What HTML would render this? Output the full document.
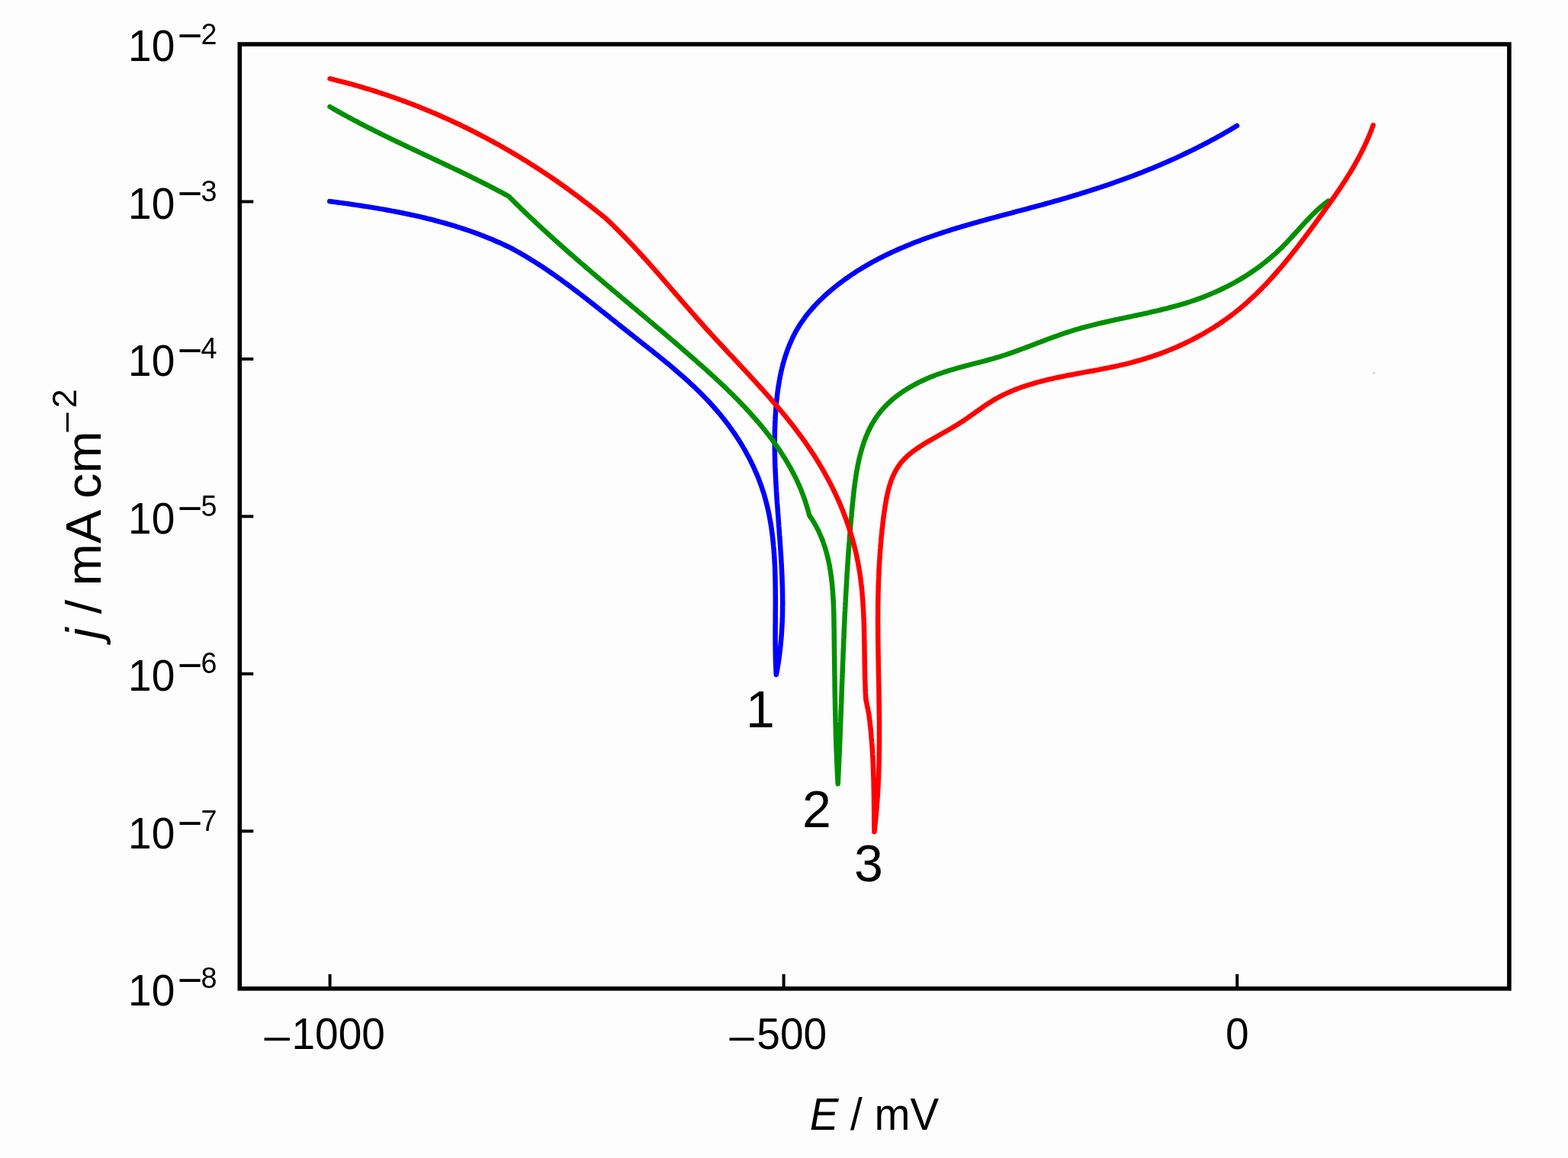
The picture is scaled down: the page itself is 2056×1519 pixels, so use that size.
<!DOCTYPE html>
<html><head><meta charset="utf-8"><style>
html,body{margin:0;padding:0;background:#fdfdfd;}
svg{display:block;}
text{font-family:"Liberation Sans", Arial, Helvetica, sans-serif;fill:#000;}
</style></head><body>
<svg width="2056" height="1519" viewBox="0 0 2056 1519">
<g>
<rect x="0" y="0" width="2056" height="1519" fill="#fdfdfd"/>
<path d="M432.3 264.1 L435.3 264.5 L438.3 264.9 L441.3 265.3 L444.3 265.7 L447.3 266.1 L450.3 266.5 L453.3 266.9 L456.3 267.3 L459.3 267.8 L462.3 268.2 L465.3 268.6 L468.3 269.1 L471.4 269.5 L474.4 270.0 L477.4 270.5 L480.4 270.9 L483.4 271.4 L486.4 271.9 L489.4 272.4 L492.4 272.9 L495.4 273.4 L498.4 273.9 L501.4 274.4 L504.4 274.9 L507.4 275.5 L510.4 276.0 L513.4 276.6 L516.3 277.1 L519.3 277.7 L522.3 278.3 L525.3 278.9 L528.3 279.5 L531.3 280.1 L534.2 280.7 L537.2 281.3 L540.2 282.0 L543.2 282.6 L546.1 283.3 L549.1 283.9 L552.1 284.6 L555.0 285.3 L558.0 286.0 L560.9 286.8 L563.9 287.5 L566.8 288.2 L569.8 289.0 L572.7 289.8 L575.6 290.6 L578.5 291.4 L581.5 292.2 L584.4 293.0 L587.3 293.8 L590.2 294.7 L593.1 295.5 L596.0 296.4 L598.9 297.3 L601.8 298.2 L604.7 299.2 L607.6 300.1 L610.5 301.1 L613.3 302.0 L616.2 303.0 L619.1 304.0 L621.9 305.0 L624.8 306.1 L627.6 307.1 L630.5 308.2 L633.3 309.3 L636.1 310.4 L638.9 311.5 L641.7 312.7 L644.6 313.8 L647.4 315.0 L650.1 316.2 L652.9 317.4 L655.7 318.6 L658.5 319.9 L661.2 321.2 L664.0 322.5 L666.8 323.8 L669.5 325.1 L672.2 326.5 L674.8 328.0 L677.5 329.5 L680.1 330.9 L682.7 332.4 L685.4 334.0 L688.0 335.5 L690.5 337.0 L693.1 338.6 L695.7 340.2 L698.2 341.7 L700.8 343.3 L703.3 344.9 L705.8 346.6 L708.4 348.2 L710.9 349.8 L713.4 351.5 L715.8 353.1 L718.3 354.8 L720.8 356.5 L723.3 358.2 L725.7 359.9 L728.2 361.6 L730.6 363.3 L733.0 365.1 L735.5 366.8 L737.9 368.6 L740.3 370.3 L742.7 372.1 L745.1 373.9 L747.5 375.7 L749.9 377.5 L752.3 379.3 L754.7 381.1 L757.1 382.9 L759.4 384.7 L761.8 386.5 L764.2 388.3 L766.5 390.2 L768.9 392.0 L771.3 393.9 L773.6 395.7 L776.0 397.6 L778.3 399.4 L780.7 401.3 L783.0 403.1 L785.4 405.0 L787.7 406.9 L790.1 408.8 L792.4 410.6 L794.8 412.5 L797.2 414.4 L799.5 416.3 L801.9 418.2 L804.2 420.0 L806.6 421.9 L808.9 423.8 L811.3 425.7 L813.7 427.6 L816.0 429.5 L818.4 431.4 L820.8 433.2 L823.1 435.1 L825.5 437.0 L827.9 438.9 L830.3 440.8 L832.7 442.7 L835.1 444.5 L837.4 446.4 L839.8 448.3 L842.2 450.2 L844.6 452.1 L847.0 454.0 L849.4 455.8 L851.8 457.7 L854.2 459.6 L856.6 461.5 L858.9 463.4 L861.3 465.3 L863.7 467.3 L866.1 469.2 L868.4 471.1 L870.8 473.0 L873.1 475.0 L875.5 476.9 L877.8 478.8 L880.2 480.8 L882.5 482.7 L884.8 484.7 L887.1 486.7 L889.4 488.7 L891.7 490.7 L894.0 492.7 L896.3 494.7 L898.5 496.7 L900.8 498.7 L903.0 500.7 L905.2 502.8 L907.4 504.8 L909.6 506.9 L911.8 509.0 L914.0 511.1 L916.1 513.2 L918.3 515.3 L920.4 517.4 L922.5 519.6 L924.6 521.7 L926.7 523.9 L928.8 526.1 L930.8 528.3 L932.8 530.5 L934.8 532.7 L936.8 535.0 L938.8 537.2 L940.7 539.5 L942.7 541.8 L944.6 544.1 L946.4 546.4 L948.3 548.8 L950.2 551.1 L952.0 553.5 L953.8 555.8 L955.6 558.2 L957.3 560.6 L959.1 563.0 L960.8 565.5 L962.5 567.9 L964.2 570.4 L965.8 572.8 L967.4 575.3 L969.0 577.8 L970.6 580.3 L972.2 582.9 L973.7 585.4 L975.2 588.0 L976.7 590.5 L978.1 593.1 L979.5 595.7 L980.9 598.3 L982.3 600.9 L983.7 603.6 L985.0 606.2 L986.3 608.9 L987.6 611.5 L988.8 614.2 L990.0 616.9 L991.2 619.6 L992.4 622.4 L993.5 625.1 L994.6 627.8 L995.7 630.6 L996.7 633.4 L997.7 636.1 L998.7 638.9 L999.6 641.8 L1000.6 644.6 L1001.5 647.4 L1002.3 650.2 L1003.1 653.1 L1003.9 656.0 L1004.7 658.9 L1005.4 661.7 L1006.1 664.6 L1006.8 667.6 L1007.5 670.5 L1008.1 673.4 L1008.7 676.4 L1009.2 679.3 L1009.8 682.3 L1010.3 685.2 L1010.8 688.2 L1011.3 691.2 L1011.7 694.2 L1012.1 697.2 L1012.5 700.2 L1012.9 703.2 L1013.2 706.2 L1013.5 709.3 L1013.9 712.3 L1014.1 715.3 L1014.4 718.4 L1014.7 721.4 L1014.9 724.5 L1015.1 727.5 L1015.3 730.6 L1015.5 733.7 L1015.7 736.8 L1015.8 739.8 L1016.0 742.9 L1016.1 746.0 L1016.2 749.1 L1016.3 752.1 L1016.4 755.2 L1016.5 758.3 L1016.5 761.4 L1016.6 764.5 L1016.6 767.6 L1016.7 770.7 L1016.7 773.8 L1016.7 776.8 L1016.8 779.9 L1016.8 783.0 L1016.8 786.1 L1016.8 789.2 L1016.8 792.3 L1016.8 795.3 L1016.8 798.4 L1016.7 801.5 L1016.7 804.6 L1016.7 807.6 L1016.7 810.7 L1016.7 813.7 L1016.7 816.8 L1016.6 819.8 L1016.6 822.9 L1016.6 825.9 L1016.6 829.0 L1016.6 832.0 L1016.6 835.0 L1016.6 838.0 L1016.6 841.0 L1016.6 844.0 L1016.6 847.0 L1016.7 850.0 L1016.7 852.9 L1016.8 855.9 L1016.8 858.9 L1016.9 861.8 L1016.9 864.7 L1017.0 867.7 L1017.1 870.6 L1017.2 873.5 L1017.4 876.4 L1017.5 879.3 L1017.6 882.1 L1017.8 885.0 L1018.4 882.0 L1018.9 879.0 L1019.5 876.0 L1020.0 873.0 L1020.5 870.1 L1020.9 867.1 L1021.4 864.1 L1021.8 861.1 L1022.2 858.1 L1022.5 855.1 L1022.9 852.1 L1023.2 849.1 L1023.5 846.1 L1023.8 843.1 L1024.1 840.1 L1024.4 837.1 L1024.6 834.1 L1024.8 831.1 L1025.0 828.1 L1025.2 825.1 L1025.4 822.1 L1025.5 819.1 L1025.7 816.1 L1025.8 813.1 L1025.9 810.1 L1026.0 807.1 L1026.0 804.1 L1026.1 801.1 L1026.1 798.1 L1026.1 795.1 L1026.2 792.1 L1026.2 789.1 L1026.1 786.1 L1026.1 783.1 L1026.1 780.1 L1026.0 777.1 L1026.0 774.1 L1025.9 771.1 L1025.8 768.1 L1025.7 765.1 L1025.6 762.1 L1025.5 759.0 L1025.4 756.0 L1025.3 753.0 L1025.1 750.0 L1025.0 747.0 L1024.8 744.0 L1024.7 741.0 L1024.5 738.0 L1024.3 735.0 L1024.2 731.9 L1024.0 728.9 L1023.8 725.9 L1023.6 722.9 L1023.4 719.9 L1023.2 716.9 L1023.0 713.9 L1022.8 710.8 L1022.6 707.8 L1022.4 704.8 L1022.1 701.8 L1021.9 698.8 L1021.7 695.8 L1021.5 692.8 L1021.2 689.7 L1021.0 686.7 L1020.8 683.7 L1020.6 680.7 L1020.4 677.7 L1020.1 674.6 L1019.9 671.6 L1019.7 668.6 L1019.5 665.6 L1019.3 662.6 L1019.0 659.5 L1018.8 656.5 L1018.6 653.5 L1018.4 650.5 L1018.2 647.5 L1018.0 644.4 L1017.9 641.4 L1017.7 638.4 L1017.5 635.4 L1017.3 632.3 L1017.2 629.3 L1017.0 626.3 L1016.9 623.3 L1016.7 620.3 L1016.6 617.2 L1016.5 614.2 L1016.3 611.2 L1016.2 608.2 L1016.1 605.1 L1016.1 602.1 L1016.0 599.1 L1015.9 596.1 L1015.9 593.0 L1015.8 590.0 L1015.8 587.0 L1015.8 584.0 L1015.8 580.9 L1015.8 577.9 L1015.8 574.9 L1015.8 571.8 L1015.9 568.8 L1015.9 565.8 L1016.0 562.8 L1016.1 559.7 L1016.2 556.7 L1016.3 553.7 L1016.5 550.7 L1016.6 547.6 L1016.8 544.6 L1017.0 541.6 L1017.2 538.5 L1017.4 535.5 L1017.7 532.5 L1017.9 529.5 L1018.2 526.4 L1018.5 523.4 L1018.9 520.4 L1019.2 517.4 L1019.6 514.4 L1020.0 511.4 L1020.4 508.4 L1020.9 505.4 L1021.4 502.5 L1021.9 499.5 L1022.4 496.5 L1023.0 493.6 L1023.6 490.7 L1024.2 487.7 L1024.9 484.8 L1025.6 481.9 L1026.3 479.0 L1027.1 476.2 L1027.9 473.3 L1028.8 470.5 L1029.6 467.6 L1030.6 464.8 L1031.5 462.0 L1032.5 459.3 L1033.5 456.5 L1034.6 453.8 L1035.7 451.1 L1036.9 448.4 L1038.1 445.7 L1039.3 443.0 L1040.6 440.4 L1042.0 437.8 L1043.3 435.2 L1044.8 432.7 L1046.3 430.1 L1047.8 427.6 L1049.4 425.1 L1051.0 422.7 L1052.7 420.3 L1054.4 417.9 L1056.1 415.5 L1057.9 413.1 L1059.8 410.8 L1061.7 408.5 L1063.6 406.3 L1065.6 404.0 L1067.6 401.8 L1069.6 399.6 L1071.7 397.4 L1073.8 395.3 L1075.9 393.2 L1078.1 391.1 L1080.2 389.0 L1082.5 387.0 L1084.7 385.0 L1087.0 383.0 L1089.3 381.0 L1091.6 379.1 L1093.9 377.2 L1096.3 375.3 L1098.6 373.4 L1101.0 371.6 L1103.4 369.8 L1105.8 368.0 L1108.2 366.2 L1110.7 364.5 L1113.1 362.8 L1115.6 361.1 L1118.1 359.4 L1120.6 357.8 L1123.1 356.1 L1125.6 354.5 L1128.2 353.0 L1130.7 351.4 L1133.3 349.9 L1135.9 348.3 L1138.5 346.9 L1141.1 345.4 L1143.7 343.9 L1146.3 342.5 L1148.9 341.1 L1151.6 339.7 L1154.2 338.3 L1156.9 337.0 L1159.6 335.6 L1162.3 334.3 L1165.0 333.0 L1167.7 331.7 L1170.4 330.4 L1173.1 329.2 L1175.9 328.0 L1178.6 326.7 L1181.4 325.5 L1184.1 324.4 L1186.9 323.2 L1189.7 322.0 L1192.5 320.9 L1195.3 319.8 L1198.1 318.6 L1200.9 317.5 L1203.7 316.5 L1206.5 315.4 L1209.4 314.3 L1212.2 313.3 L1215.1 312.3 L1217.9 311.2 L1220.8 310.2 L1223.7 309.2 L1226.5 308.2 L1229.4 307.3 L1232.3 306.3 L1235.2 305.4 L1238.1 304.4 L1241.0 303.5 L1243.9 302.6 L1246.8 301.6 L1249.7 300.7 L1252.6 299.8 L1255.5 298.9 L1258.5 298.1 L1261.4 297.2 L1264.3 296.3 L1267.3 295.5 L1270.2 294.6 L1273.1 293.8 L1276.1 292.9 L1279.0 292.1 L1282.0 291.3 L1284.9 290.4 L1287.9 289.6 L1290.8 288.8 L1293.8 288.0 L1296.7 287.2 L1299.7 286.4 L1302.6 285.6 L1305.6 284.8 L1308.5 284.0 L1311.5 283.2 L1314.5 282.4 L1317.4 281.6 L1320.4 280.8 L1323.3 280.1 L1326.3 279.3 L1329.2 278.5 L1332.2 277.7 L1335.1 276.9 L1338.1 276.2 L1341.0 275.4 L1344.0 274.6 L1346.9 273.8 L1349.8 273.0 L1352.8 272.2 L1355.7 271.5 L1358.6 270.7 L1361.6 269.9 L1364.5 269.1 L1367.4 268.3 L1370.3 267.5 L1373.2 266.7 L1376.1 265.9 L1379.1 265.1 L1382.0 264.2 L1384.8 263.4 L1387.7 262.6 L1390.6 261.8 L1393.5 260.9 L1396.4 260.1 L1399.3 259.3 L1402.1 258.4 L1405.0 257.6 L1407.9 256.7 L1410.7 255.8 L1413.6 255.0 L1416.4 254.1 L1419.3 253.2 L1422.1 252.3 L1425.0 251.4 L1427.8 250.5 L1430.7 249.6 L1433.5 248.7 L1436.3 247.8 L1439.1 246.9 L1442.0 246.0 L1444.8 245.0 L1447.6 244.1 L1450.4 243.2 L1453.2 242.2 L1456.0 241.2 L1458.8 240.3 L1461.6 239.3 L1464.4 238.3 L1467.2 237.3 L1470.0 236.3 L1472.8 235.3 L1475.6 234.3 L1478.3 233.3 L1481.1 232.3 L1483.9 231.2 L1486.7 230.2 L1489.4 229.1 L1492.2 228.1 L1495.0 227.0 L1497.7 225.9 L1500.5 224.8 L1503.2 223.7 L1506.0 222.6 L1508.7 221.5 L1511.5 220.4 L1514.2 219.2 L1517.0 218.1 L1519.7 216.9 L1522.4 215.8 L1525.2 214.6 L1527.9 213.4 L1530.6 212.2 L1533.3 211.0 L1536.1 209.8 L1538.8 208.6 L1541.5 207.4 L1544.2 206.1 L1546.9 204.9 L1549.6 203.6 L1552.3 202.3 L1555.0 201.0 L1557.7 199.7 L1560.4 198.4 L1563.1 197.1 L1565.8 195.8 L1568.5 194.4 L1571.2 193.1 L1573.9 191.7 L1576.6 190.3 L1579.3 188.9 L1582.0 187.5 L1584.7 186.1 L1587.3 184.7 L1590.0 183.2 L1592.7 181.8 L1595.4 180.3 L1598.0 178.8 L1600.7 177.3 L1603.4 175.8 L1606.0 174.3 L1608.7 172.8 L1611.4 171.2 L1614.0 169.7 L1616.7 168.1 L1619.3 166.5 L1622.0 164.9" fill="none" stroke="#0000ff" stroke-width="6.5" stroke-linejoin="round" stroke-linecap="round"/>
<path d="M432.5 140.0 L435.1 141.5 L437.8 143.1 L440.5 144.6 L443.1 146.1 L445.8 147.6 L448.5 149.1 L451.1 150.6 L453.8 152.0 L456.5 153.5 L459.2 154.9 L461.9 156.4 L464.6 157.8 L467.3 159.2 L470.0 160.7 L472.7 162.1 L475.4 163.5 L478.1 164.9 L480.8 166.3 L483.5 167.7 L486.3 169.0 L489.0 170.4 L491.7 171.8 L494.5 173.2 L497.2 174.5 L499.9 175.9 L502.7 177.2 L505.4 178.6 L508.1 179.9 L510.9 181.2 L513.6 182.6 L516.4 183.9 L519.1 185.2 L521.9 186.5 L524.6 187.8 L527.4 189.2 L530.1 190.5 L532.9 191.8 L535.7 193.1 L538.4 194.4 L541.2 195.7 L543.9 197.0 L546.7 198.3 L549.5 199.6 L552.2 200.9 L555.0 202.2 L557.7 203.5 L560.5 204.8 L563.3 206.1 L566.0 207.4 L568.8 208.7 L571.5 210.0 L574.3 211.3 L577.1 212.6 L579.8 213.9 L582.6 215.2 L585.3 216.5 L588.1 217.8 L590.8 219.1 L593.6 220.4 L596.3 221.7 L599.1 223.0 L601.8 224.3 L604.6 225.7 L607.3 227.0 L610.1 228.3 L612.8 229.6 L615.6 231.0 L618.3 232.3 L621.0 233.7 L623.8 235.0 L626.5 236.4 L629.2 237.7 L631.9 239.1 L634.6 240.5 L637.4 241.9 L640.1 243.2 L642.8 244.6 L645.5 246.0 L648.2 247.4 L650.9 248.9 L653.6 250.3 L656.3 251.7 L659.0 253.1 L661.6 254.6 L664.3 256.0 L667.0 257.5 L669.2 259.7 L671.3 261.8 L673.5 264.0 L675.6 266.1 L677.8 268.2 L680.0 270.4 L682.2 272.5 L684.3 274.6 L686.5 276.7 L688.7 278.8 L690.9 280.9 L693.1 283.0 L695.3 285.1 L697.5 287.2 L699.7 289.2 L701.9 291.3 L704.1 293.4 L706.3 295.4 L708.5 297.5 L710.8 299.5 L713.0 301.6 L715.2 303.6 L717.4 305.7 L719.7 307.7 L721.9 309.7 L724.1 311.7 L726.4 313.8 L728.6 315.8 L730.9 317.8 L733.1 319.8 L735.4 321.8 L737.6 323.8 L739.9 325.8 L742.1 327.8 L744.4 329.8 L746.6 331.8 L748.9 333.8 L751.2 335.7 L753.4 337.7 L755.7 339.7 L758.0 341.7 L760.2 343.6 L762.5 345.6 L764.8 347.6 L767.1 349.5 L769.3 351.5 L771.6 353.4 L773.9 355.4 L776.2 357.4 L778.5 359.3 L780.8 361.3 L783.0 363.2 L785.3 365.1 L787.6 367.1 L789.9 369.0 L792.2 371.0 L794.5 372.9 L796.8 374.9 L799.1 376.8 L801.4 378.7 L803.7 380.7 L806.0 382.6 L808.3 384.6 L810.6 386.5 L812.9 388.4 L815.2 390.4 L817.5 392.3 L819.8 394.2 L822.1 396.2 L824.4 398.1 L826.7 400.0 L829.0 402.0 L831.3 403.9 L833.6 405.9 L836.0 407.8 L838.3 409.7 L840.6 411.7 L842.9 413.6 L845.2 415.6 L847.5 417.5 L849.8 419.4 L852.1 421.4 L854.4 423.3 L856.7 425.3 L859.0 427.2 L861.3 429.2 L863.7 431.1 L866.0 433.1 L868.3 435.0 L870.6 437.0 L872.9 439.0 L875.2 440.9 L877.5 442.9 L879.8 444.9 L882.1 446.8 L884.4 448.8 L886.7 450.8 L889.0 452.8 L891.3 454.7 L893.6 456.7 L895.9 458.7 L898.2 460.7 L900.5 462.7 L902.8 464.7 L905.1 466.7 L907.4 468.7 L909.7 470.7 L912.0 472.7 L914.3 474.8 L916.5 476.8 L918.8 478.8 L921.1 480.8 L923.4 482.9 L925.7 484.9 L927.9 487.0 L930.2 489.0 L932.5 491.1 L934.7 493.1 L937.0 495.2 L939.2 497.3 L941.4 499.4 L943.7 501.4 L945.9 503.5 L948.1 505.6 L950.3 507.7 L952.5 509.8 L954.7 512.0 L956.9 514.1 L959.0 516.2 L961.2 518.4 L963.3 520.5 L965.5 522.7 L967.6 524.8 L969.7 527.0 L971.8 529.2 L973.9 531.4 L976.0 533.6 L978.1 535.8 L980.1 538.0 L982.2 540.2 L984.2 542.5 L986.2 544.7 L988.2 547.0 L990.2 549.3 L992.2 551.5 L994.2 553.8 L996.1 556.1 L998.0 558.4 L999.9 560.7 L1001.8 563.1 L1003.7 565.4 L1005.5 567.7 L1007.4 570.1 L1009.2 572.5 L1011.0 574.9 L1012.8 577.3 L1014.6 579.7 L1016.3 582.1 L1018.0 584.5 L1019.7 587.0 L1021.4 589.4 L1023.1 591.9 L1024.7 594.4 L1026.3 596.9 L1027.9 599.4 L1029.5 601.9 L1031.0 604.5 L1032.5 607.0 L1034.0 609.6 L1035.5 612.1 L1037.0 614.7 L1038.4 617.4 L1039.8 620.0 L1041.1 622.6 L1042.5 625.3 L1043.8 627.9 L1045.1 630.6 L1046.3 633.3 L1047.5 636.0 L1048.7 638.8 L1049.9 641.5 L1051.0 644.3 L1052.1 647.1 L1053.1 649.9 L1054.2 652.7 L1055.2 655.5 L1056.1 658.4 L1057.0 661.3 L1057.9 664.2 L1058.8 667.1 L1059.6 670.0 L1060.4 672.9 L1061.1 675.9 L1062.8 678.4 L1064.5 680.9 L1066.1 683.5 L1067.7 686.1 L1069.2 688.7 L1070.6 691.3 L1071.9 693.9 L1073.3 696.6 L1074.5 699.3 L1075.7 702.0 L1076.9 704.7 L1078.0 707.5 L1079.0 710.2 L1080.0 713.0 L1081.0 715.8 L1081.9 718.6 L1082.7 721.4 L1083.5 724.3 L1084.3 727.2 L1085.0 730.0 L1085.7 732.9 L1086.4 735.8 L1087.0 738.8 L1087.6 741.7 L1088.1 744.6 L1088.6 747.6 L1089.1 750.6 L1089.5 753.5 L1089.9 756.5 L1090.3 759.5 L1090.7 762.5 L1091.0 765.6 L1091.3 768.6 L1091.5 771.6 L1091.8 774.7 L1092.0 777.7 L1092.2 780.8 L1092.4 783.8 L1092.6 786.9 L1092.7 790.0 L1092.9 793.0 L1093.0 796.1 L1093.1 799.2 L1093.2 802.3 L1093.3 805.4 L1093.4 808.5 L1093.4 811.6 L1093.5 814.6 L1093.5 817.7 L1093.6 820.8 L1093.6 823.9 L1093.7 827.0 L1093.7 830.1 L1093.8 833.2 L1093.8 836.3 L1093.8 839.3 L1093.9 842.4 L1093.9 845.5 L1093.9 848.6 L1094.0 851.6 L1094.0 854.7 L1094.1 857.8 L1094.1 860.9 L1094.1 863.9 L1094.2 867.0 L1094.2 870.1 L1094.3 873.1 L1094.3 876.2 L1094.3 879.2 L1094.4 882.3 L1094.4 885.3 L1094.5 888.4 L1094.5 891.5 L1094.6 894.5 L1094.6 897.6 L1094.6 900.6 L1094.7 903.7 L1094.7 906.7 L1094.8 909.8 L1094.8 912.8 L1094.9 915.9 L1095.0 918.9 L1095.0 921.9 L1095.1 925.0 L1095.1 928.0 L1095.2 931.1 L1095.3 934.1 L1095.3 937.2 L1095.4 940.2 L1095.5 943.2 L1095.5 946.3 L1095.6 949.3 L1095.7 952.3 L1095.8 955.4 L1095.9 958.4 L1095.9 961.5 L1096.0 964.5 L1096.1 967.5 L1096.2 970.6 L1096.3 973.6 L1096.4 976.6 L1096.5 979.7 L1096.6 982.7 L1096.7 985.8 L1096.9 988.8 L1097.0 991.8 L1097.1 994.9 L1097.2 997.9 L1097.4 1000.9 L1097.5 1004.0 L1097.6 1007.0 L1097.8 1010.1 L1097.9 1013.1 L1098.1 1016.1 L1098.2 1019.2 L1098.4 1022.2 L1098.5 1025.3 L1098.7 1028.3 L1098.9 1025.2 L1099.0 1022.1 L1099.2 1019.1 L1099.3 1016.0 L1099.5 1012.9 L1099.6 1009.8 L1099.7 1006.8 L1099.9 1003.7 L1100.0 1000.7 L1100.2 997.6 L1100.3 994.6 L1100.4 991.5 L1100.6 988.5 L1100.7 985.4 L1100.8 982.4 L1100.9 979.4 L1101.1 976.3 L1101.2 973.3 L1101.3 970.3 L1101.4 967.3 L1101.6 964.2 L1101.7 961.2 L1101.8 958.2 L1101.9 955.2 L1102.0 952.2 L1102.1 949.2 L1102.3 946.2 L1102.4 943.2 L1102.5 940.2 L1102.6 937.2 L1102.7 934.2 L1102.8 931.2 L1102.9 928.2 L1103.0 925.2 L1103.2 922.2 L1103.3 919.2 L1103.4 916.2 L1103.5 913.2 L1103.6 910.2 L1103.7 907.3 L1103.8 904.3 L1103.9 901.3 L1104.0 898.3 L1104.1 895.3 L1104.2 892.4 L1104.4 889.4 L1104.5 886.4 L1104.6 883.4 L1104.7 880.4 L1104.8 877.5 L1104.9 874.5 L1105.0 871.5 L1105.1 868.6 L1105.3 865.6 L1105.4 862.6 L1105.5 859.6 L1105.6 856.7 L1105.7 853.7 L1105.8 850.7 L1106.0 847.8 L1106.1 844.8 L1106.2 841.8 L1106.3 838.8 L1106.5 835.9 L1106.6 832.9 L1106.7 829.9 L1106.8 827.0 L1107.0 824.0 L1107.1 821.0 L1107.2 818.0 L1107.4 815.1 L1107.5 812.1 L1107.6 809.1 L1107.8 806.1 L1107.9 803.2 L1108.1 800.2 L1108.2 797.2 L1108.4 794.2 L1108.5 791.2 L1108.7 788.2 L1108.8 785.3 L1109.0 782.3 L1109.2 779.3 L1109.3 776.3 L1109.5 773.3 L1109.7 770.3 L1109.8 767.3 L1110.0 764.3 L1110.2 761.3 L1110.4 758.3 L1110.5 755.3 L1110.7 752.3 L1110.9 749.3 L1111.1 746.3 L1111.3 743.3 L1111.5 740.3 L1111.7 737.2 L1111.9 734.2 L1112.1 731.2 L1112.3 728.2 L1112.5 725.2 L1112.7 722.1 L1113.0 719.1 L1113.2 716.1 L1113.4 713.0 L1113.7 710.0 L1113.9 706.9 L1114.1 703.9 L1114.4 700.8 L1114.6 697.8 L1114.9 694.7 L1115.1 691.7 L1115.4 688.6 L1115.6 685.5 L1115.9 682.5 L1116.2 679.4 L1116.5 676.3 L1116.7 673.2 L1117.0 670.1 L1117.3 667.0 L1117.6 663.9 L1117.9 660.8 L1118.2 657.7 L1118.5 654.6 L1118.9 651.5 L1119.2 648.4 L1119.5 645.3 L1119.9 642.2 L1120.3 639.1 L1120.7 636.1 L1121.1 633.0 L1121.5 629.9 L1122.0 626.8 L1122.4 623.8 L1122.9 620.7 L1123.4 617.7 L1124.0 614.7 L1124.5 611.7 L1125.1 608.7 L1125.8 605.7 L1126.4 602.8 L1127.1 599.8 L1127.8 596.9 L1128.6 594.0 L1129.4 591.1 L1130.2 588.3 L1131.1 585.4 L1132.0 582.6 L1132.9 579.8 L1133.9 577.1 L1135.0 574.3 L1136.0 571.6 L1137.2 569.0 L1138.3 566.3 L1139.6 563.7 L1140.8 561.2 L1142.2 558.6 L1143.5 556.1 L1145.0 553.6 L1146.5 551.2 L1148.0 548.8 L1149.6 546.5 L1151.3 544.1 L1153.0 541.9 L1154.8 539.6 L1156.6 537.5 L1158.5 535.3 L1160.5 533.2 L1162.5 531.1 L1164.6 529.1 L1166.7 527.1 L1168.9 525.2 L1171.1 523.3 L1173.4 521.5 L1175.7 519.6 L1178.0 517.9 L1180.4 516.1 L1182.9 514.4 L1185.3 512.8 L1187.9 511.1 L1190.4 509.5 L1193.0 508.0 L1195.6 506.5 L1198.3 505.0 L1200.9 503.6 L1203.6 502.2 L1206.4 500.8 L1209.1 499.5 L1211.9 498.2 L1214.7 497.0 L1217.5 495.8 L1220.3 494.6 L1223.2 493.4 L1226.0 492.3 L1228.9 491.3 L1231.8 490.2 L1234.7 489.2 L1237.6 488.2 L1240.5 487.3 L1243.4 486.4 L1246.3 485.5 L1249.3 484.6 L1252.2 483.8 L1255.2 482.9 L1258.1 482.1 L1261.1 481.3 L1264.0 480.5 L1267.0 479.7 L1269.9 479.0 L1272.9 478.2 L1275.8 477.4 L1278.8 476.7 L1281.8 475.9 L1284.7 475.1 L1287.6 474.4 L1290.6 473.6 L1293.5 472.8 L1296.4 472.0 L1299.4 471.2 L1302.3 470.4 L1305.2 469.5 L1308.1 468.7 L1311.0 467.8 L1313.8 466.9 L1316.7 466.0 L1319.6 465.0 L1322.4 464.1 L1325.2 463.1 L1328.1 462.1 L1330.9 461.1 L1333.7 460.1 L1336.5 459.1 L1339.3 458.0 L1342.1 457.0 L1344.9 455.9 L1347.7 454.9 L1350.5 453.8 L1353.3 452.8 L1356.1 451.7 L1358.9 450.6 L1361.7 449.5 L1364.5 448.5 L1367.2 447.4 L1370.0 446.4 L1372.8 445.3 L1375.6 444.3 L1378.4 443.2 L1381.2 442.2 L1384.0 441.2 L1386.9 440.2 L1389.7 439.2 L1392.5 438.2 L1395.3 437.2 L1398.2 436.3 L1401.0 435.4 L1403.9 434.5 L1406.8 433.6 L1409.6 432.7 L1412.5 431.9 L1415.4 431.0 L1418.3 430.2 L1421.2 429.4 L1424.2 428.6 L1427.1 427.9 L1430.0 427.1 L1433.0 426.4 L1435.9 425.6 L1438.8 424.9 L1441.8 424.2 L1444.8 423.5 L1447.7 422.8 L1450.7 422.2 L1453.7 421.5 L1456.6 420.8 L1459.6 420.2 L1462.6 419.5 L1465.6 418.9 L1468.5 418.2 L1471.5 417.6 L1474.5 417.0 L1477.5 416.3 L1480.5 415.7 L1483.5 415.1 L1486.4 414.4 L1489.4 413.8 L1492.4 413.2 L1495.4 412.5 L1498.4 411.9 L1501.4 411.2 L1504.3 410.6 L1507.3 409.9 L1510.3 409.2 L1513.2 408.5 L1516.2 407.9 L1519.1 407.2 L1522.1 406.5 L1525.0 405.7 L1528.0 405.0 L1530.9 404.3 L1533.8 403.5 L1536.8 402.7 L1539.7 401.9 L1542.6 401.1 L1545.5 400.3 L1548.4 399.5 L1551.3 398.6 L1554.1 397.8 L1557.0 396.9 L1559.8 396.0 L1562.7 395.0 L1565.5 394.1 L1568.3 393.1 L1571.2 392.1 L1574.0 391.1 L1576.8 390.0 L1579.5 388.9 L1582.3 387.8 L1585.1 386.7 L1587.8 385.6 L1590.5 384.4 L1593.3 383.2 L1596.0 382.0 L1598.7 380.8 L1601.3 379.5 L1604.0 378.2 L1606.7 376.9 L1609.3 375.6 L1611.9 374.3 L1614.6 372.9 L1617.2 371.5 L1619.8 370.0 L1622.3 368.6 L1624.9 367.1 L1627.4 365.6 L1630.0 364.1 L1632.5 362.5 L1635.0 360.9 L1637.5 359.3 L1639.9 357.7 L1642.4 356.0 L1644.8 354.3 L1647.3 352.6 L1649.7 350.9 L1652.1 349.1 L1654.4 347.3 L1656.8 345.5 L1659.1 343.7 L1661.4 341.8 L1663.8 339.9 L1666.0 338.0 L1668.3 336.0 L1670.6 334.1 L1672.8 332.1 L1675.0 330.0 L1677.2 328.0 L1679.4 325.9 L1681.6 323.8 L1683.7 321.6 L1685.8 319.4 L1687.9 317.2 L1690.0 315.0 L1692.1 312.8 L1694.2 310.5 L1696.2 308.3 L1698.3 306.0 L1700.3 303.7 L1702.4 301.5 L1704.4 299.2 L1706.5 296.9 L1708.6 294.6 L1710.6 292.4 L1712.7 290.1 L1714.8 287.9 L1716.9 285.7 L1719.0 283.5 L1721.2 281.4 L1723.3 279.3 L1725.5 277.2 L1727.7 275.1 L1729.9 273.1 L1732.2 271.1 L1734.5 269.2 L1736.8 267.3 L1739.2 265.5 L1741.6 263.7" fill="none" stroke="#009000" stroke-width="6.5" stroke-linejoin="round" stroke-linecap="round"/>
<path d="M432.5 103.2 L435.4 103.9 L438.4 104.6 L441.3 105.3 L444.3 106.1 L447.2 106.8 L450.2 107.6 L453.1 108.4 L456.0 109.1 L458.9 109.9 L461.9 110.7 L464.8 111.5 L467.7 112.4 L470.6 113.2 L473.5 114.0 L476.4 114.9 L479.3 115.8 L482.2 116.6 L485.1 117.5 L488.0 118.4 L490.9 119.3 L493.8 120.2 L496.7 121.2 L499.5 122.1 L502.4 123.1 L505.3 124.0 L508.1 125.0 L511.0 126.0 L513.9 127.0 L516.7 128.0 L519.6 129.0 L522.4 130.0 L525.3 131.0 L528.1 132.1 L531.0 133.1 L533.8 134.2 L536.6 135.2 L539.4 136.3 L542.3 137.4 L545.1 138.5 L547.9 139.6 L550.7 140.7 L553.5 141.9 L556.3 143.0 L559.1 144.2 L561.9 145.3 L564.7 146.5 L567.5 147.7 L570.3 148.8 L573.0 150.0 L575.8 151.2 L578.6 152.5 L581.3 153.7 L584.1 154.9 L586.9 156.2 L589.6 157.4 L592.4 158.7 L595.1 160.0 L597.8 161.2 L600.6 162.5 L603.3 163.8 L606.0 165.1 L608.8 166.5 L611.5 167.8 L614.2 169.1 L616.9 170.5 L619.6 171.8 L622.3 173.2 L625.0 174.6 L627.7 176.0 L630.4 177.4 L633.0 178.8 L635.7 180.2 L638.4 181.6 L641.1 183.0 L643.7 184.5 L646.4 185.9 L649.0 187.4 L651.7 188.8 L654.3 190.3 L656.9 191.8 L659.6 193.3 L662.2 194.8 L664.8 196.3 L667.4 197.8 L670.0 199.3 L672.7 200.9 L675.3 202.4 L677.9 204.0 L680.4 205.5 L683.0 207.1 L685.6 208.7 L688.2 210.3 L690.8 211.8 L693.3 213.4 L695.9 215.1 L698.4 216.7 L701.0 218.3 L703.5 219.9 L706.1 221.6 L708.6 223.2 L711.1 224.9 L713.7 226.6 L716.2 228.2 L718.7 229.9 L721.2 231.6 L723.7 233.3 L726.2 235.0 L728.7 236.8 L731.2 238.5 L733.6 240.2 L736.1 242.0 L738.6 243.7 L741.0 245.5 L743.5 247.2 L745.9 249.0 L748.4 250.8 L750.8 252.6 L753.2 254.4 L755.7 256.2 L758.1 258.0 L760.5 259.8 L762.9 261.6 L765.3 263.5 L767.7 265.3 L770.1 267.2 L772.5 269.0 L774.9 270.9 L777.2 272.8 L779.6 274.6 L782.0 276.5 L784.3 278.4 L786.7 280.3 L789.0 282.2 L791.3 284.1 L793.7 286.1 L796.0 288.0 L798.2 290.1 L800.4 292.2 L802.6 294.3 L804.8 296.5 L806.9 298.6 L809.1 300.7 L811.2 302.9 L813.4 305.0 L815.5 307.2 L817.6 309.4 L819.7 311.5 L821.8 313.7 L823.9 315.9 L826.0 318.1 L828.0 320.3 L830.1 322.5 L832.2 324.7 L834.2 326.9 L836.2 329.1 L838.3 331.3 L840.3 333.5 L842.3 335.7 L844.3 338.0 L846.4 340.2 L848.4 342.4 L850.4 344.7 L852.3 346.9 L854.3 349.1 L856.3 351.4 L858.3 353.6 L860.3 355.9 L862.3 358.1 L864.2 360.4 L866.2 362.6 L868.2 364.9 L870.1 367.2 L872.1 369.4 L874.0 371.7 L876.0 373.9 L878.0 376.2 L879.9 378.5 L881.9 380.7 L883.8 383.0 L885.8 385.3 L887.8 387.5 L889.7 389.8 L891.7 392.1 L893.6 394.3 L895.6 396.6 L897.6 398.9 L899.5 401.1 L901.5 403.4 L903.5 405.7 L905.4 407.9 L907.4 410.2 L909.4 412.4 L911.4 414.7 L913.4 417.0 L915.4 419.2 L917.4 421.5 L919.4 423.7 L921.4 426.0 L923.4 428.2 L925.4 430.5 L927.4 432.7 L929.5 434.9 L931.5 437.2 L933.5 439.4 L935.6 441.6 L937.6 443.9 L939.7 446.1 L941.7 448.3 L943.8 450.5 L945.9 452.8 L947.9 455.0 L950.0 457.2 L952.1 459.4 L954.1 461.7 L956.2 463.9 L958.3 466.1 L960.4 468.3 L962.4 470.5 L964.5 472.8 L966.6 475.0 L968.7 477.2 L970.8 479.4 L972.8 481.7 L974.9 483.9 L977.0 486.1 L979.0 488.4 L981.1 490.6 L983.2 492.8 L985.2 495.1 L987.3 497.3 L989.3 499.6 L991.4 501.8 L993.4 504.1 L995.5 506.3 L997.5 508.6 L999.5 510.8 L1001.6 513.1 L1003.6 515.4 L1005.6 517.6 L1007.6 519.9 L1009.6 522.2 L1011.6 524.5 L1013.6 526.8 L1015.6 529.1 L1017.5 531.4 L1019.5 533.7 L1021.5 536.0 L1023.4 538.3 L1025.3 540.6 L1027.3 542.9 L1029.2 545.3 L1031.1 547.6 L1033.0 550.0 L1034.9 552.3 L1036.7 554.7 L1038.6 557.0 L1040.4 559.4 L1042.3 561.8 L1044.1 564.2 L1045.9 566.6 L1047.7 569.0 L1049.5 571.4 L1051.3 573.9 L1053.0 576.3 L1054.8 578.7 L1056.5 581.2 L1058.2 583.6 L1059.9 586.1 L1061.6 588.6 L1063.3 591.1 L1064.9 593.6 L1066.6 596.1 L1068.2 598.6 L1069.8 601.1 L1071.4 603.7 L1072.9 606.2 L1074.5 608.8 L1076.0 611.3 L1077.5 613.9 L1079.0 616.5 L1080.5 619.1 L1082.0 621.7 L1083.4 624.3 L1084.8 626.9 L1086.3 629.6 L1087.6 632.2 L1089.0 634.8 L1090.4 637.5 L1091.7 640.2 L1093.0 642.8 L1094.3 645.5 L1095.6 648.2 L1096.8 650.9 L1098.1 653.6 L1099.3 656.4 L1100.5 659.1 L1101.7 661.8 L1102.8 664.6 L1104.0 667.3 L1105.1 670.1 L1106.2 672.8 L1107.2 675.6 L1108.3 678.4 L1109.3 681.2 L1110.3 684.0 L1111.3 686.8 L1112.3 689.6 L1113.2 692.5 L1114.1 695.3 L1115.0 698.1 L1115.9 701.0 L1116.8 703.9 L1117.6 706.7 L1118.4 709.6 L1119.2 712.5 L1120.0 715.4 L1120.7 718.3 L1121.4 721.2 L1122.1 724.1 L1122.8 727.0 L1123.4 729.9 L1124.0 732.9 L1124.6 735.8 L1125.2 738.8 L1125.7 741.7 L1126.2 744.7 L1126.7 747.7 L1127.2 750.6 L1127.7 753.6 L1128.1 756.6 L1128.5 759.6 L1128.9 762.6 L1129.2 765.6 L1129.6 768.6 L1129.9 771.7 L1130.2 774.7 L1130.5 777.7 L1130.7 780.7 L1131.0 783.8 L1131.2 786.8 L1131.4 789.9 L1131.6 792.9 L1131.8 796.0 L1132.0 799.0 L1132.1 802.1 L1132.3 805.1 L1132.4 808.2 L1132.6 811.2 L1132.7 814.3 L1132.8 817.4 L1132.9 820.4 L1133.0 823.5 L1133.0 826.5 L1133.1 829.6 L1133.2 832.7 L1133.2 835.7 L1133.3 838.8 L1133.4 841.8 L1133.4 844.9 L1133.5 847.9 L1133.5 851.0 L1133.5 854.0 L1133.6 857.1 L1133.6 860.1 L1133.7 863.2 L1133.7 866.2 L1133.8 869.2 L1133.8 872.3 L1133.9 875.3 L1133.9 878.3 L1134.0 881.3 L1134.0 884.3 L1134.1 887.3 L1134.2 890.3 L1134.3 893.3 L1134.4 896.3 L1134.5 899.3 L1134.6 902.3 L1134.7 905.2 L1134.8 908.2 L1135.0 911.1 L1135.1 914.1 L1135.3 917.0 L1136.1 921.0 L1136.9 925.0 L1137.7 929.0 L1138.5 933.0 L1139.3 937.0 L1139.7 940.1 L1140.1 943.1 L1140.5 946.2 L1140.8 949.3 L1141.2 952.3 L1141.5 955.4 L1141.8 958.5 L1142.1 961.5 L1142.4 964.6 L1142.6 967.7 L1142.9 970.8 L1143.1 973.8 L1143.4 976.9 L1143.6 980.0 L1143.8 983.1 L1144.0 986.1 L1144.1 989.2 L1144.3 992.3 L1144.5 995.4 L1144.6 998.5 L1144.8 1001.5 L1144.9 1004.6 L1145.0 1007.7 L1145.1 1010.8 L1145.2 1013.9 L1145.3 1017.0 L1145.4 1020.0 L1145.5 1023.1 L1145.6 1026.2 L1145.6 1029.3 L1145.7 1032.4 L1145.8 1035.5 L1145.8 1038.6 L1145.9 1041.6 L1145.9 1044.7 L1146.0 1047.8 L1146.0 1050.9 L1146.0 1054.0 L1146.1 1057.1 L1146.1 1060.2 L1146.1 1063.2 L1146.2 1066.3 L1146.2 1069.4 L1146.2 1072.5 L1146.2 1075.6 L1146.3 1078.7 L1146.3 1081.7 L1146.3 1084.8 L1146.4 1087.9 L1146.4 1091.0 L1146.8 1088.0 L1147.1 1085.0 L1147.4 1082.0 L1147.8 1078.9 L1148.1 1075.9 L1148.4 1072.9 L1148.7 1069.9 L1148.9 1066.9 L1149.2 1063.9 L1149.5 1060.9 L1149.7 1057.8 L1149.9 1054.8 L1150.2 1051.8 L1150.4 1048.8 L1150.6 1045.8 L1150.8 1042.8 L1151.0 1039.8 L1151.1 1036.8 L1151.3 1033.8 L1151.5 1030.8 L1151.6 1027.8 L1151.7 1024.8 L1151.9 1021.8 L1152.0 1018.8 L1152.1 1015.7 L1152.2 1012.7 L1152.3 1009.7 L1152.4 1006.7 L1152.5 1003.7 L1152.6 1000.7 L1152.6 997.7 L1152.7 994.7 L1152.8 991.7 L1152.8 988.7 L1152.9 985.7 L1152.9 982.7 L1152.9 979.7 L1153.0 976.7 L1153.0 973.7 L1153.0 970.7 L1153.0 967.7 L1153.0 964.7 L1153.0 961.7 L1153.0 958.7 L1153.0 955.7 L1153.0 952.7 L1153.0 949.7 L1153.0 946.7 L1152.9 943.7 L1152.9 940.7 L1152.9 937.7 L1152.8 934.7 L1152.8 931.7 L1152.8 928.7 L1152.7 925.7 L1152.7 922.7 L1152.6 919.7 L1152.6 916.7 L1152.5 913.7 L1152.5 910.7 L1152.4 907.7 L1152.4 904.7 L1152.3 901.7 L1152.3 898.7 L1152.2 895.7 L1152.2 892.7 L1152.1 889.7 L1152.0 886.7 L1152.0 883.7 L1151.9 880.7 L1151.9 877.7 L1151.8 874.7 L1151.8 871.7 L1151.7 868.7 L1151.7 865.7 L1151.6 862.7 L1151.6 859.7 L1151.5 856.7 L1151.5 853.7 L1151.4 850.7 L1151.4 847.7 L1151.3 844.7 L1151.3 841.7 L1151.3 838.7 L1151.2 835.7 L1151.2 832.7 L1151.2 829.7 L1151.2 826.7 L1151.2 823.7 L1151.1 820.7 L1151.1 817.7 L1151.1 814.7 L1151.1 811.7 L1151.1 808.6 L1151.2 805.6 L1151.2 802.6 L1151.2 799.6 L1151.2 796.6 L1151.2 793.6 L1151.3 790.6 L1151.3 787.6 L1151.4 784.6 L1151.4 781.6 L1151.5 778.5 L1151.6 775.5 L1151.7 772.5 L1151.7 769.5 L1151.8 766.5 L1151.9 763.5 L1152.0 760.5 L1152.2 757.4 L1152.3 754.4 L1152.4 751.4 L1152.5 748.4 L1152.7 745.4 L1152.9 742.3 L1153.0 739.3 L1153.2 736.3 L1153.4 733.3 L1153.6 730.3 L1153.8 727.2 L1154.0 724.2 L1154.2 721.2 L1154.5 718.2 L1154.7 715.1 L1155.0 712.1 L1155.2 709.1 L1155.5 706.0 L1155.8 703.0 L1156.1 700.0 L1156.4 696.9 L1156.7 693.9 L1157.1 690.9 L1157.4 687.8 L1157.8 684.8 L1158.1 681.8 L1158.5 678.7 L1158.9 675.7 L1159.3 672.6 L1159.8 669.6 L1160.2 666.6 L1160.7 663.5 L1161.2 660.5 L1161.7 657.5 L1162.2 654.5 L1162.8 651.5 L1163.5 648.6 L1164.1 645.6 L1164.8 642.7 L1165.6 639.9 L1166.4 637.0 L1167.3 634.2 L1168.2 631.5 L1169.2 628.7 L1170.3 626.1 L1171.5 623.4 L1172.7 620.8 L1174.0 618.3 L1175.3 615.9 L1176.8 613.4 L1178.4 611.1 L1180.0 608.8 L1181.7 606.6 L1183.6 604.5 L1185.5 602.4 L1187.5 600.4 L1189.6 598.4 L1191.7 596.5 L1193.9 594.7 L1196.2 592.8 L1198.5 591.1 L1200.9 589.4 L1203.4 587.7 L1205.9 586.0 L1208.4 584.4 L1210.9 582.8 L1213.5 581.2 L1216.1 579.6 L1218.8 578.1 L1221.4 576.6 L1224.1 575.1 L1226.7 573.6 L1229.4 572.0 L1232.0 570.5 L1234.7 569.0 L1237.4 567.5 L1240.0 566.0 L1242.7 564.5 L1245.3 563.0 L1247.9 561.5 L1250.6 559.9 L1253.2 558.3 L1255.8 556.7 L1258.3 555.1 L1260.9 553.5 L1263.4 551.8 L1265.9 550.1 L1268.4 548.4 L1270.9 546.7 L1273.3 544.9 L1275.8 543.2 L1278.2 541.5 L1280.6 539.7 L1283.1 538.0 L1285.5 536.3 L1287.9 534.5 L1290.4 532.9 L1292.8 531.2 L1295.3 529.6 L1297.8 528.0 L1300.3 526.4 L1302.8 524.9 L1305.3 523.4 L1307.9 522.0 L1310.5 520.6 L1313.1 519.2 L1315.7 517.9 L1318.3 516.6 L1321.0 515.4 L1323.6 514.2 L1326.3 513.1 L1329.0 511.9 L1331.8 510.9 L1334.5 509.8 L1337.3 508.8 L1340.0 507.8 L1342.8 506.8 L1345.6 505.9 L1348.4 505.0 L1351.3 504.1 L1354.1 503.3 L1357.0 502.4 L1359.8 501.6 L1362.7 500.9 L1365.6 500.1 L1368.5 499.4 L1371.4 498.6 L1374.3 497.9 L1377.2 497.3 L1380.2 496.6 L1383.1 495.9 L1386.1 495.3 L1389.0 494.7 L1392.0 494.1 L1395.0 493.5 L1397.9 492.9 L1400.9 492.3 L1403.9 491.7 L1406.9 491.2 L1409.9 490.6 L1412.9 490.0 L1415.9 489.5 L1418.9 488.9 L1421.9 488.4 L1424.9 487.8 L1427.9 487.3 L1430.9 486.7 L1433.9 486.2 L1436.9 485.6 L1439.9 485.1 L1442.9 484.5 L1445.9 483.9 L1448.9 483.3 L1451.9 482.8 L1454.9 482.1 L1457.9 481.5 L1460.9 480.9 L1463.9 480.3 L1466.8 479.6 L1469.8 478.9 L1472.8 478.3 L1475.7 477.6 L1478.7 476.8 L1481.6 476.1 L1484.5 475.3 L1487.5 474.5 L1490.4 473.7 L1493.3 472.9 L1496.2 472.1 L1499.1 471.2 L1502.0 470.3 L1504.8 469.4 L1507.7 468.5 L1510.5 467.6 L1513.4 466.6 L1516.2 465.6 L1519.0 464.6 L1521.9 463.6 L1524.7 462.6 L1527.5 461.5 L1530.2 460.4 L1533.0 459.3 L1535.8 458.2 L1538.5 457.0 L1541.3 455.9 L1544.0 454.7 L1546.7 453.5 L1549.4 452.2 L1552.1 451.0 L1554.8 449.7 L1557.5 448.4 L1560.2 447.1 L1562.8 445.8 L1565.4 444.4 L1568.1 443.0 L1570.7 441.6 L1573.3 440.2 L1575.9 438.8 L1578.5 437.3 L1581.0 435.8 L1583.6 434.3 L1586.1 432.8 L1588.6 431.3 L1591.2 429.7 L1593.7 428.1 L1596.1 426.5 L1598.6 424.9 L1601.1 423.2 L1603.5 421.5 L1605.9 419.8 L1608.4 418.1 L1610.8 416.4 L1613.2 414.6 L1615.5 412.8 L1617.9 411.0 L1620.2 409.2 L1622.6 407.3 L1624.9 405.4 L1627.2 403.5 L1629.4 401.6 L1631.7 399.7 L1634.0 397.7 L1636.2 395.7 L1638.4 393.7 L1640.6 391.7 L1642.8 389.7 L1645.0 387.6 L1647.2 385.5 L1649.3 383.4 L1651.4 381.3 L1653.6 379.2 L1655.7 377.0 L1657.8 374.8 L1659.9 372.7 L1661.9 370.5 L1664.0 368.3 L1666.1 366.0 L1668.1 363.8 L1670.1 361.5 L1672.1 359.3 L1674.1 357.0 L1676.1 354.7 L1678.1 352.4 L1680.1 350.1 L1682.0 347.8 L1684.0 345.4 L1685.9 343.1 L1687.9 340.7 L1689.8 338.4 L1691.7 336.0 L1693.6 333.6 L1695.5 331.2 L1697.4 328.9 L1699.3 326.5 L1701.1 324.1 L1703.0 321.6 L1704.8 319.2 L1706.7 316.8 L1708.5 314.4 L1710.4 312.0 L1712.2 309.5 L1714.0 307.1 L1715.8 304.7 L1717.6 302.3 L1719.4 299.8 L1721.2 297.4 L1723.0 295.0 L1724.8 292.5 L1726.5 290.1 L1728.3 287.7 L1730.1 285.2 L1731.8 282.8 L1733.6 280.4 L1735.3 277.9 L1737.1 275.5 L1738.8 273.1 L1740.5 270.7 L1742.3 268.3 L1744.0 265.9 L1745.7 263.4 L1747.4 261.0 L1749.1 258.6 L1750.8 256.2 L1752.4 253.7 L1754.1 251.3 L1755.8 248.9 L1757.4 246.4 L1759.0 244.0 L1760.7 241.5 L1762.3 239.0 L1763.9 236.6 L1765.5 234.1 L1767.0 231.6 L1768.6 229.1 L1770.1 226.6 L1771.7 224.0 L1773.2 221.5 L1774.7 219.0 L1776.2 216.4 L1777.6 213.8 L1779.1 211.2 L1780.5 208.6 L1781.9 206.0 L1783.3 203.3 L1784.7 200.7 L1786.0 198.0 L1787.4 195.3 L1788.7 192.6 L1790.0 189.8 L1791.2 187.1 L1792.5 184.3 L1793.7 181.5 L1794.9 178.7 L1796.1 175.8 L1797.3 173.0 L1798.4 170.1 L1799.5 167.1 L1800.6 164.2" fill="none" stroke="#ff0000" stroke-width="6.5" stroke-linejoin="round" stroke-linecap="round"/>
<circle cx="1801.5" cy="489.5" r="1.3" fill="#c8c8c8"/>
<rect x="314.3" y="58.0" width="1664.6" height="1238.8" fill="none" stroke="#000" stroke-width="5.6"/>
<line x1="314.3" y1="264.5" x2="332.3" y2="264.5" stroke="#000" stroke-width="4"/>
<line x1="314.3" y1="470.9" x2="332.3" y2="470.9" stroke="#000" stroke-width="4"/>
<line x1="314.3" y1="677.4" x2="332.3" y2="677.4" stroke="#000" stroke-width="4"/>
<line x1="314.3" y1="883.9" x2="332.3" y2="883.9" stroke="#000" stroke-width="4"/>
<line x1="314.3" y1="1090.3" x2="332.3" y2="1090.3" stroke="#000" stroke-width="4"/>
<line x1="432.6" y1="1296.8" x2="432.6" y2="1277.8" stroke="#000" stroke-width="4"/>
<line x1="1027.6" y1="1296.8" x2="1027.6" y2="1277.8" stroke="#000" stroke-width="4"/>
<line x1="1622.2" y1="1296.8" x2="1622.2" y2="1277.8" stroke="#000" stroke-width="4"/>
<text x="168" y="80.3" font-size="57" textLength="61.3" lengthAdjust="spacingAndGlyphs">10</text>
<text x="235.6" y="62.4" font-size="58" textLength="27.2" lengthAdjust="spacingAndGlyphs">–</text>
<text x="263.6" y="57.5" font-size="39" textLength="21.0" lengthAdjust="spacingAndGlyphs">2</text>
<text x="168" y="286.8" font-size="57" textLength="61.3" lengthAdjust="spacingAndGlyphs">10</text>
<text x="235.6" y="268.9" font-size="58" textLength="27.2" lengthAdjust="spacingAndGlyphs">–</text>
<text x="263.6" y="264.0" font-size="39" textLength="21.0" lengthAdjust="spacingAndGlyphs">3</text>
<text x="168" y="493.2" font-size="57" textLength="61.3" lengthAdjust="spacingAndGlyphs">10</text>
<text x="235.6" y="475.3" font-size="58" textLength="27.2" lengthAdjust="spacingAndGlyphs">–</text>
<text x="263.6" y="470.4" font-size="39" textLength="21.0" lengthAdjust="spacingAndGlyphs">4</text>
<text x="168" y="699.7" font-size="57" textLength="61.3" lengthAdjust="spacingAndGlyphs">10</text>
<text x="235.6" y="681.8" font-size="58" textLength="27.2" lengthAdjust="spacingAndGlyphs">–</text>
<text x="263.6" y="676.9" font-size="39" textLength="21.0" lengthAdjust="spacingAndGlyphs">5</text>
<text x="168" y="906.2" font-size="57" textLength="61.3" lengthAdjust="spacingAndGlyphs">10</text>
<text x="235.6" y="888.3" font-size="58" textLength="27.2" lengthAdjust="spacingAndGlyphs">–</text>
<text x="263.6" y="883.4" font-size="39" textLength="21.0" lengthAdjust="spacingAndGlyphs">6</text>
<text x="168" y="1112.6" font-size="57" textLength="61.3" lengthAdjust="spacingAndGlyphs">10</text>
<text x="235.6" y="1094.7" font-size="58" textLength="27.2" lengthAdjust="spacingAndGlyphs">–</text>
<text x="263.6" y="1089.8" font-size="39" textLength="21.0" lengthAdjust="spacingAndGlyphs">7</text>
<text x="168" y="1319.1" font-size="57" textLength="61.3" lengthAdjust="spacingAndGlyphs">10</text>
<text x="235.6" y="1301.2" font-size="58" textLength="27.2" lengthAdjust="spacingAndGlyphs">–</text>
<text x="263.6" y="1296.3" font-size="39" textLength="21.0" lengthAdjust="spacingAndGlyphs">8</text>
<text x="346.5" y="1377.7" font-size="58" textLength="33.5" lengthAdjust="spacingAndGlyphs">–</text>
<text x="382.5" y="1375.5" font-size="57" textLength="122.5" lengthAdjust="spacingAndGlyphs">1000</text>
<text x="956.6" y="1377.7" font-size="58" textLength="32.2" lengthAdjust="spacingAndGlyphs">–</text>
<text x="992.3" y="1375.5" font-size="57" textLength="91.9" lengthAdjust="spacingAndGlyphs">500</text>
<text x="1607.1" y="1375.5" font-size="57" textLength="30.6" lengthAdjust="spacingAndGlyphs">0</text>
<text x="978" y="953.5" font-size="68">1</text>
<text x="1052" y="1085" font-size="68">2</text>
<text x="1120" y="1155.5" font-size="68">3</text>
<text x="1061.8" y="1481.5" font-size="59" textLength="169.3" lengthAdjust="spacingAndGlyphs"><tspan font-style="italic">E</tspan> / mV</text>
<text transform="translate(132.3 838.5) rotate(-90)" font-size="64" textLength="273.1" lengthAdjust="spacingAndGlyphs"><tspan font-style="italic">j</tspan> / mA cm</text>
<text transform="translate(99.5 838.5) rotate(-90)" font-size="45"><tspan x="272.1">–</tspan><tspan x="303.3">2</tspan></text>
</g>
</svg>
</body></html>
